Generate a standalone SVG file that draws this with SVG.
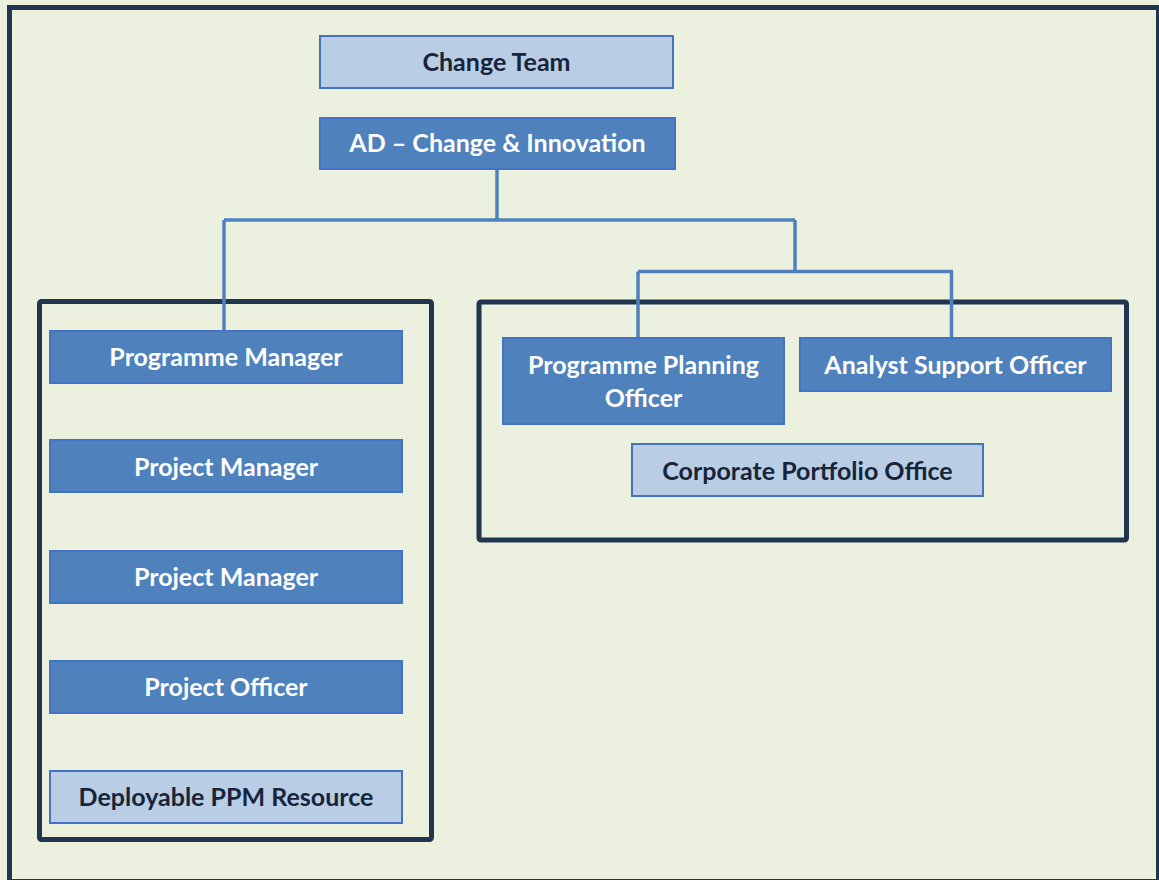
<svg xmlns="http://www.w3.org/2000/svg" width="1159" height="880" viewBox="0 0 1159 880">
<style>
.bg{fill:#EBF0DF}
.frame{fill:none;stroke:#1F3550;stroke-width:5}
.group{fill:none;stroke:#1F3550;stroke-width:5}
.dark rect{fill:#4F81BD;stroke:#4472C4;stroke-width:2}
.light rect{fill:#B9CDE5;stroke:#4472C4;stroke-width:2}
text{font-family:Lato,"Open Sans","Liberation Sans",sans-serif;font-weight:bold;font-size:25px;text-anchor:middle}
.dark text{fill:#FFFFFF}
.light text{fill:#17243A}
.conn{fill:none;stroke:#4F81BD;stroke-width:3.5}
</style>
<rect class="bg" x="0" y="0" width="1159" height="880"/>
<rect class="frame" x="9.5" y="7.5" width="1149" height="874"/>
<g id="containers">
<rect class="group" x="39.5" y="301.5" width="392" height="538" rx="2"/>
<rect class="group" x="479" y="302" width="647.5" height="238" rx="2"/>
</g>
<g id="connectors">
<path class="conn" d="M497 169 V220 M224 220 H795 M224 220 V331 M795 220 V271.5 M638 271.5 H953 M638 271.5 V338 M951.5 271.5 V338"/>
</g>
<g id="change-team" class="light">
<rect x="320" y="36" width="353" height="52"/>
<text x="496.5" y="71">Change Team</text>
</g>
<g id="ad-change-innovation" class="dark">
<rect x="320" y="118" width="355" height="51"/>
<text x="497.5" y="152">AD – Change &amp; Innovation</text>
</g>
<g id="programme-manager" class="dark">
<rect x="50" y="331" width="352" height="52"/>
<text x="226" y="366">Programme Manager</text>
</g>
<g id="project-manager-1" class="dark">
<rect x="50" y="440" width="352" height="52"/>
<text x="226" y="475.5">Project Manager</text>
</g>
<g id="project-manager-2" class="dark">
<rect x="50" y="551" width="352" height="52"/>
<text x="226" y="586">Project Manager</text>
</g>
<g id="project-officer" class="dark">
<rect x="50" y="661" width="352" height="52"/>
<text x="226" y="696">Project Officer</text>
</g>
<g id="deployable-ppm-resource" class="light">
<rect x="50" y="771" width="352" height="52"/>
<text x="226" y="806">Deployable PPM Resource</text>
</g>
<g id="programme-planning-officer" class="dark">
<rect x="503" y="338" width="281" height="86"/>
<text x="643.5" y="374">Programme Planning</text>
<text x="643.5" y="407">Officer</text>
</g>
<g id="analyst-support-officer" class="dark">
<rect x="800" y="338" width="311" height="53"/>
<text x="955.5" y="373.5">Analyst Support Officer</text>
</g>
<g id="corporate-portfolio-office" class="light">
<rect x="632" y="444" width="351" height="52"/>
<text x="807.5" y="479.5">Corporate Portfolio Office</text>
</g>
</svg>
